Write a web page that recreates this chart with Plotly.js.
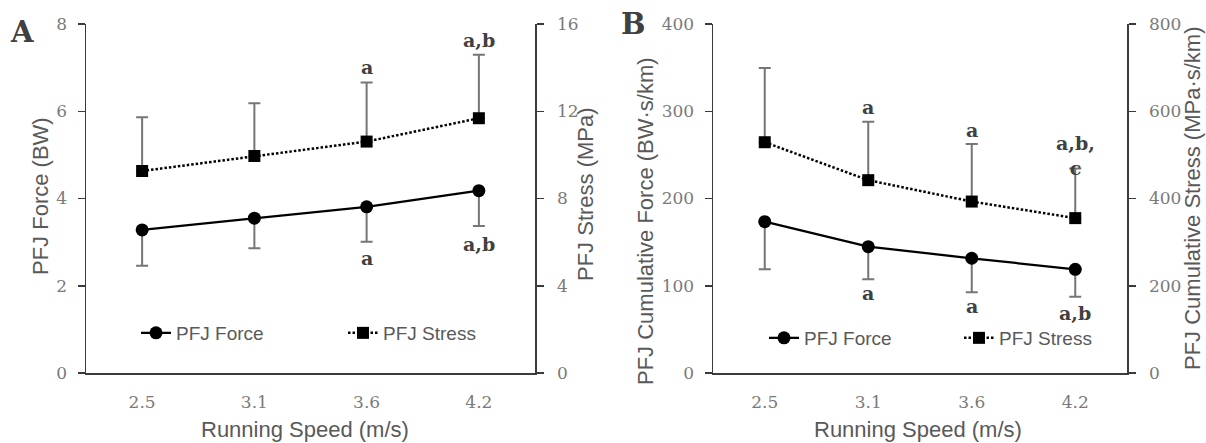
<!DOCTYPE html>
<html>
<head>
<meta charset="utf-8">
<script src="https://cdn.plot.ly/plotly-3.0.1.min.js"></script>
<style>html,body{margin:0;padding:0;background:#fff;}#chart{width:1206px;height:443px;}</style>
</head>
<body>
<div id="chart"></div>
<script>
// ---- data ----
var speeds = ['2.5', '3.1', '3.6', '4.2'];
// Panel A: peak PFJ force (BW, left axis) and stress (MPa, right axis)
var forceA = [3.28, 3.55, 3.81, 4.18];
var forceAErrMinus = [0.82, 0.69, 0.80, 0.81];
var stressA = [9.26, 9.95, 10.61, 11.68];
var stressAErrPlus = [2.46, 2.42, 2.71, 2.91];
// Panel B: cumulative force (BW·s/km, left) and stress (MPa·s/km, right)
var cumForceB = [173.4, 144.8, 131.5, 118.8];
var cumForceBErrMinus = [54.6, 37.4, 39.0, 31.4];
var cumStressB = [529, 442, 393, 355];
var cumStressBErrPlus = [170, 134, 132, 114];
// significance letters
var sigForceA = ['', '', 'a', 'a,b'];
var sigStressA = ['', '', 'a', 'a,b'];
var sigForceB = ['', 'a', 'a', 'a,b'];
var sigStressB = ['', 'a', 'a', 'a,b,<br>c'];
var zeros = [0, 0, 0, 0];

// ---- styles ----
var W = 1206, H = 443;
function px(x) { return x / W; }
function py(y) { return 1 - y / H; }
var axisCol = '#3a3a3a';
var tickFont = {family: 'DejaVu Serif, serif', size: 17, color: '#7a7a7a'};
var titleFont = {family: 'Liberation Sans, Arial, sans-serif', size: 22, color: '#595959'};
var sigFont = {family: 'DejaVu Serif, serif', size: 19, color: '#404040', weight: 700};
var errCol = '#767676';

function errMinus(arr) { return {type: 'data', symmetric: false, array: zeros, arrayminus: arr, color: errCol, thickness: 2, width: 6}; }
function errPlus(arr) { return {type: 'data', symmetric: false, array: arr, arrayminus: zeros, color: errCol, thickness: 2, width: 6}; }

var forceStyle = {mode: 'lines+markers', line: {color: '#000', width: 2.25}, marker: {symbol: 'circle', size: 13, color: '#000'}};
var stressStyle = {mode: 'lines+markers', line: {color: '#000', width: 2.5, dash: '2.5px,2px'}, marker: {symbol: 'square', size: 12, color: '#000'}};

var traces = [
  Object.assign({name: 'PFJ Force', x: speeds, y: forceA, xaxis: 'x', yaxis: 'y', legend: 'legend', error_y: errMinus(forceAErrMinus)}, forceStyle),
  Object.assign({name: 'PFJ Stress', x: speeds, y: stressA, xaxis: 'x', yaxis: 'y2', legend: 'legend', error_y: errPlus(stressAErrPlus)}, stressStyle),
  Object.assign({name: 'PFJ Force', x: speeds, y: cumForceB, xaxis: 'x2', yaxis: 'y3', legend: 'legend2', error_y: errMinus(cumForceBErrMinus)}, forceStyle),
  Object.assign({name: 'PFJ Stress', x: speeds, y: cumStressB, xaxis: 'x2', yaxis: 'y4', legend: 'legend2', error_y: errPlus(cumStressBErrPlus)}, stressStyle)
];

var yDom = [py(373), py(24)];
function xAxis(dom, anchor) {
  return {type: 'category', domain: dom, anchor: anchor, range: [-0.5, 3.5], showline: true, linecolor: axisCol, linewidth: 1.5,
          ticks: '', showgrid: false, zeroline: false, tickfont: tickFont, ticklabelstandoff: 13, fixedrange: true};
}
function yAxis(range, dtick, anchor, side, overlay) {
  var a = {domain: yDom, anchor: anchor, range: range, dtick: dtick, tick0: 0, side: side, showline: true, linecolor: axisCol, linewidth: 1.5,
           ticks: 'outside', ticklen: 7, tickwidth: 1.5, tickcolor: axisCol, showgrid: false, zeroline: false, tickfont: tickFont,
           ticklabelstandoff: side === 'right' ? 10 : 7, fixedrange: true};
  if (overlay) a.overlaying = overlay;
  return a;
}

var annotations = [];
function addSig(labels, xref, yref, vals, errs, sign, shifts) {
  for (var i = 0; i < labels.length; i++) {
    if (!labels[i]) continue;
    // category axis: position by category index
    annotations.push({xref: xref, yref: yref, x: i, y: vals[i] + sign * errs[i], text: labels[i], showarrow: false,
                      xanchor: 'center', yanchor: 'middle', yshift: shifts[i], font: sigFont});
  }
}
addSig(sigStressA, 'x', 'y2', stressA, stressAErrPlus, 1, [0, 0, 15, 15]);
addSig(sigForceA, 'x', 'y', forceA, forceAErrMinus, -1, [0, 0, -16, -18]);
addSig(sigStressB, 'x2', 'y4', cumStressB, cumStressBErrPlus, 1, [0, 15, 14, 13]);
addSig(sigForceB, 'x2', 'y3', cumForceB, cumForceBErrMinus, -1, [0, -14, -14, -16]);

function txt(text, x, y, font, angle) {
  annotations.push({xref: 'paper', yref: 'paper', x: px(x), y: py(y), text: text, showarrow: false, xanchor: 'center', yanchor: 'middle',
                    font: font, textangle: angle || 0});
}
txt('PFJ Force (BW)', 40, 196, titleFont, -90);
txt('PFJ Stress (MPa)', 586, 194, titleFont, -90);
txt('Running Speed (m/s)', 305, 429, titleFont);
txt('PFJ Cumulative Force (BW·s/km)', 645, 221, titleFont, -90);
txt('PFJ Cumulative Stress (MPa·s/km)', 1192, 198, titleFont, -90);
txt('Running Speed (m/s)', 918, 429, titleFont);
var panelFont = {family: 'DejaVu Serif, serif', size: 29, color: '#404040', weight: 700};
txt('A', 22, 32, panelFont);
txt('B', 633, 24, panelFont);

var legendFont = {family: 'Liberation Sans, Arial, sans-serif', size: 19, color: '#595959'};
var layout = {
  width: W, height: H, margin: {l: 0, r: 0, t: 0, b: 0}, paper_bgcolor: '#fff', plot_bgcolor: 'rgba(0,0,0,0)',
  showlegend: true,
  xaxis: xAxis([px(86), px(535)], 'y'),
  yaxis: yAxis([0, 8], 2, 'x', 'left'),
  yaxis2: yAxis([0, 16], 4, 'x', 'right', 'y'),
  xaxis2: xAxis([px(713), px(1127)], 'y3'),
  yaxis3: yAxis([0, 400], 100, 'x2', 'left'),
  yaxis4: yAxis([0, 800], 200, 'x2', 'right', 'y3'),
  legend: {orientation: 'h', x: px(136), y: py(333), xanchor: 'left', yanchor: 'middle', font: legendFont, bgcolor: 'rgba(0,0,0,0)',
           entrywidth: 162, entrywidthmode: 'pixels', itemclick: false},
  legend2: {orientation: 'h', x: px(764), y: py(338), xanchor: 'left', yanchor: 'middle', font: legendFont, bgcolor: 'rgba(0,0,0,0)',
            entrywidth: 150, entrywidthmode: 'pixels', itemclick: false},
  annotations: annotations
};

Plotly.newPlot('chart', traces, layout, {displayModeBar: false, staticPlot: true});
</script>
</body>
</html>
